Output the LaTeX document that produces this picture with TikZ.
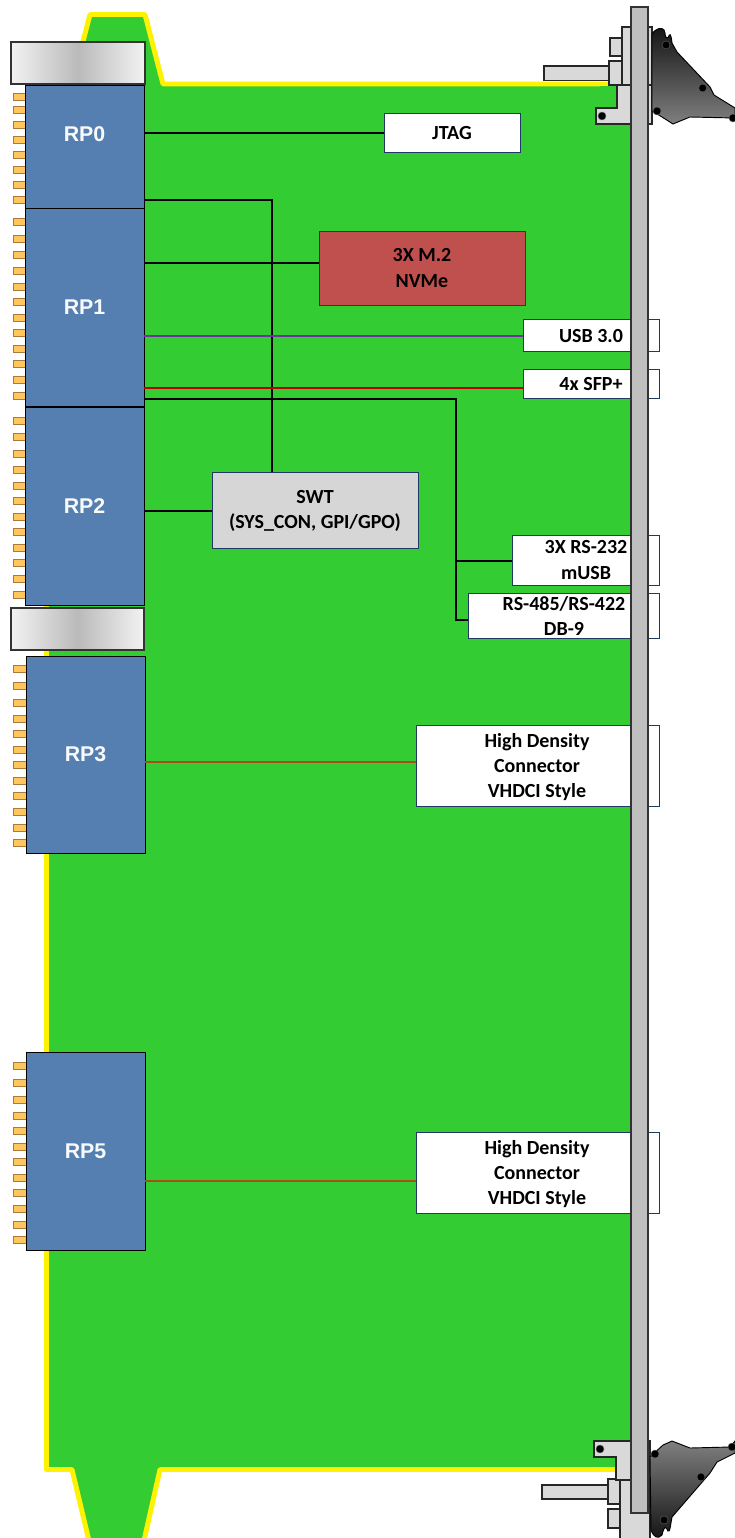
\documentclass[tikz,border=0pt]{standalone}
\usepackage{fontspec}
\setmainfont{Carlito}
\newfontfamily\rpfont{Liberation Sans}
\usepackage{tikz}
\definecolor{boardgreen}{HTML}{33CC33}
\definecolor{rpblue}{HTML}{557EB1}
\definecolor{boxline}{HTML}{1F3864}
\definecolor{nvmered}{HTML}{C0504D}
\definecolor{swtgray}{HTML}{D6D6D6}
\definecolor{pinfill}{HTML}{FFC65C}
\definecolor{pinline}{HTML}{A9793F}
\definecolor{plategray}{HTML}{BFBFBF}
\definecolor{bracketgray}{HTML}{D9D9D9}
\definecolor{usbpurple}{HTML}{7030A0}
\definecolor{sfpred}{HTML}{C00000}
\definecolor{hdred}{HTML}{A5501A}
\tikzset{
  rpbox/.style={draw=black,fill=rpblue,line width=0.7pt,inner sep=0pt,minimum width=89.25pt,text=white!95!rpblue,font=\rpfont\bfseries\fontsize{16}{18}\selectfont},
  iobox/.style={draw=boxline,fill=white,line width=1pt,inner sep=0pt,anchor=north west},
  boxtext/.style={align=center,inner sep=0pt,yshift=-0.75pt,font=\bfseries\fontsize{15}{19}\selectfont},
  greybar/.style={draw=black!80,line width=0.9pt,left color=black!5,right color=black!5,middle color=black!27},
  pin/.style={draw=pinline,fill=pinfill,line width=0.7pt},
  metal/.style={draw=black!85,fill=bracketgray,line width=0.9pt},
  wire/.style={draw=black,line width=1.5pt},
  hole/.style={fill=black,draw=black!60,line width=0.3pt},
  handle/.style={draw=black,line width=0.7pt,top color=black!92,bottom color=black!50}
}
\begin{document}
\begin{tikzpicture}[x=0.75pt,y=-0.75pt]
\useasboundingbox (0,0) rectangle (735,1538);
% board
\draw [fill=boardgreen,draw=yellow,line width=3.7pt,line join=round]
  (46.5,84) -- (72,84) -- (90,14.5) -- (145,14.5) -- (163,84) -- (640,84) -- (640,1469.5) -- (160,1469.5) -- (143,1545) -- (90,1545) -- (72,1469.5) -- (46.5,1469.5) -- cycle;
\fill [boardgreen] (600,86) rectangle (640,1467);
\fill [white] (631,0) rectangle (735,1538);
% pins
\foreach \y in {96.7,110,125,140,155,170,185,200,221.7,238.7,255,271,286.7,302,317.7,333,349,364,380,395.7,420.7,437,454,470,486,501,517,532,548,563,579,595}
  \draw [pin] (13,\y-3.7) rectangle (25,\y+3.7);
\foreach \y in {669,686,703,719,734,750,765,781,796,812,828,843,1066,1083,1100,1116,1131,1147,1162,1178,1193,1209,1225,1240}
  \draw [pin] (13,\y-3.7) rectangle (26,\y+3.7);
% grey bars
\draw [greybar] (11,42) rectangle (145,84);
\draw [greybar] (11,608) rectangle (144,650);
% processors
\node [rpbox,minimum height=92.25pt] (rpzero) at (84.5,146.5) {\raisebox{18pt}{RP0}};
\node [rpbox,minimum height=148.5pt] (rpone) at (84.5,307) {RP1};
\node [rpbox,minimum height=148.5pt] (rptwo) at (84.5,506) {RP2};
\node [rpbox,minimum height=147.75pt] (rpthree) at (85.5,754.5) {RP3};
\node [rpbox,minimum height=148.5pt] (rpfive) at (85.5,1151.5) {RP5};
% boxes
\node [iobox,minimum width=102pt,minimum height=29.25pt] (jtag) at (384,113) {};
\node [iobox,fill=nvmered,minimum width=154.5pt,minimum height=55.5pt] (nvme) at (319,231) {};
\node [iobox,fill=swtgray,minimum width=154.5pt,minimum height=57pt] (swt) at (212,472) {};
\node [iobox,minimum width=102pt,minimum height=24pt] (usb) at (523,319) {};
\node [iobox,minimum width=102pt,minimum height=21.75pt] (sfp) at (523,369) {};
\node [iobox,minimum width=110.25pt,minimum height=37.5pt] (rstwo) at (512,535) {};
\node [iobox,minimum width=143.25pt,minimum height=33.75pt] (rsfour) at (468,593) {};
\node [iobox,minimum width=182.25pt,minimum height=60.75pt] (hdone) at (416,725) {};
\node [iobox,minimum width=182.25pt,minimum height=60.75pt] (hdtwo) at (416,1132) {};
% texts
\node [boxtext] (jtagtext) at (452,132) {JTAG};
\node [boxtext] (nvmetext) at (422,267) {3X M.2\\NVMe};
\node [boxtext] (swttext) at (315,510) {SWT\\(SYS\_CON, GPI/GPO)};
\node [boxtext] (usbtext) at (591,335) {USB 3.0};
\node [boxtext] (sfptext) at (591,383) {4x SFP+};
\node [boxtext] (rstwotext) at (586,559) {3X RS-232\\mUSB};
\node [boxtext] (rsfourtext) at (564,615) {RS-485/RS-422\\DB-9};
\node [boxtext] (hdonetext) at (537,766) {High Density\\Connector\\VHDCI Style};
\node [boxtext] (hdtwotext) at (537,1173) {High Density\\Connector\\VHDCI Style};
% connectors
\draw [wire] (rpzero.east |- jtag.west) -- (jtag.west);
\draw [wire] ([yshift=-39.75pt]rpzero.east) -| (swt.north -| 272,0);
\draw [wire] ([yshift=33pt]rpone.east) -- ([yshift=33pt]rpone.east -| nvme.west);
\draw [line width=1.4pt,usbpurple] (rpone.east |- usb.west) -- (usb.west);
\draw [line width=1.4pt,sfpred] ([yshift=-2.6pt]sfp.west -| rpone.east) -- ([yshift=-2.6pt]sfp.west);
\coordinate (rsbus) at (456,399);
\draw [wire] (rpone.east |- rsbus) -- (rsbus) |- (rsfour.west |- 0,620);
\draw [wire] (rsbus |- rstwo.west) -- (rstwo.west);
\draw [wire] (rptwo.east |- swt.west) -- (swt.west);
\draw [line width=1.4pt,hdred] (rpthree.east |- 0,762) -- (hdone.west |- 0,762);
\draw [line width=1.4pt,hdred] (rpfive.east |- 0,1181) -- (hdtwo.west |- 0,1181);
% top hardware
\draw [metal] (544,66) rectangle (609,80.5);
\draw [metal] (610,38) rectangle (622,56);
\draw [metal] (609,61) rectangle (622,85);
\draw [metal] (622,27) rectangle (652,85);
\draw [metal] (617,85) -- (617,108) -- (596,108) -- (596,124) -- (652,124) -- (652,85) -- cycle;
\fill [hole] (602,116) circle (3pt);
\draw [handle] (652,34) .. controls (656,28) and (662,27) .. (664,30) .. controls (666,33) and (664,38) .. (668,38)
  .. controls (670,32) and (671,34) .. (672,43) -- (677,52) -- (710,87) -- (714,95) -- (735,108) -- (735,118)
  -- (690,117) -- (673,124) -- (662,117) -- (652,111) -- cycle;
\fill [hole] (666,45) circle (3pt);
\fill [hole] (702.7,88) circle (3pt);
\fill [hole] (657,111) circle (3pt);
\fill [hole] (733,118) circle (3pt);
% bottom hardware
\draw [metal] (542,1485) rectangle (608,1499);
\draw [metal] (608,1479) rectangle (620,1504);
\draw [metal] (608,1509) rectangle (620,1528);
\draw [metal] (620,1480) rectangle (650,1545);
\draw [metal] (594,1441) -- (650,1441) -- (650,1480) -- (616,1480) -- (616,1457) -- (594,1457) -- cycle;
\fill [hole] (600,1449) circle (3pt);
\draw [handle,top color=black!50,bottom color=black!92] (650,1457) -- (663,1445) -- (672,1441) -- (690,1448) -- (730,1447) -- (735,1441) -- (735,1453)
  -- (717,1462) -- (710,1473) -- (672,1517) .. controls (670,1528) and (670,1532) .. (668,1531) .. controls (665,1525) and (664,1527) .. (662,1535)
  .. controls (658,1539) and (654,1538) .. (651,1530) -- cycle;
\fill [hole] (655,1454) circle (3pt);
\fill [hole] (701,1477) circle (3pt);
\fill [hole] (664,1520) circle (3pt);
\fill [hole] (732,1447) circle (3pt);
% face plate
\draw [fill=plategray,draw=black!80,line width=0.9pt] (631,7) rectangle (648,1513);
\end{tikzpicture}
\end{document}
